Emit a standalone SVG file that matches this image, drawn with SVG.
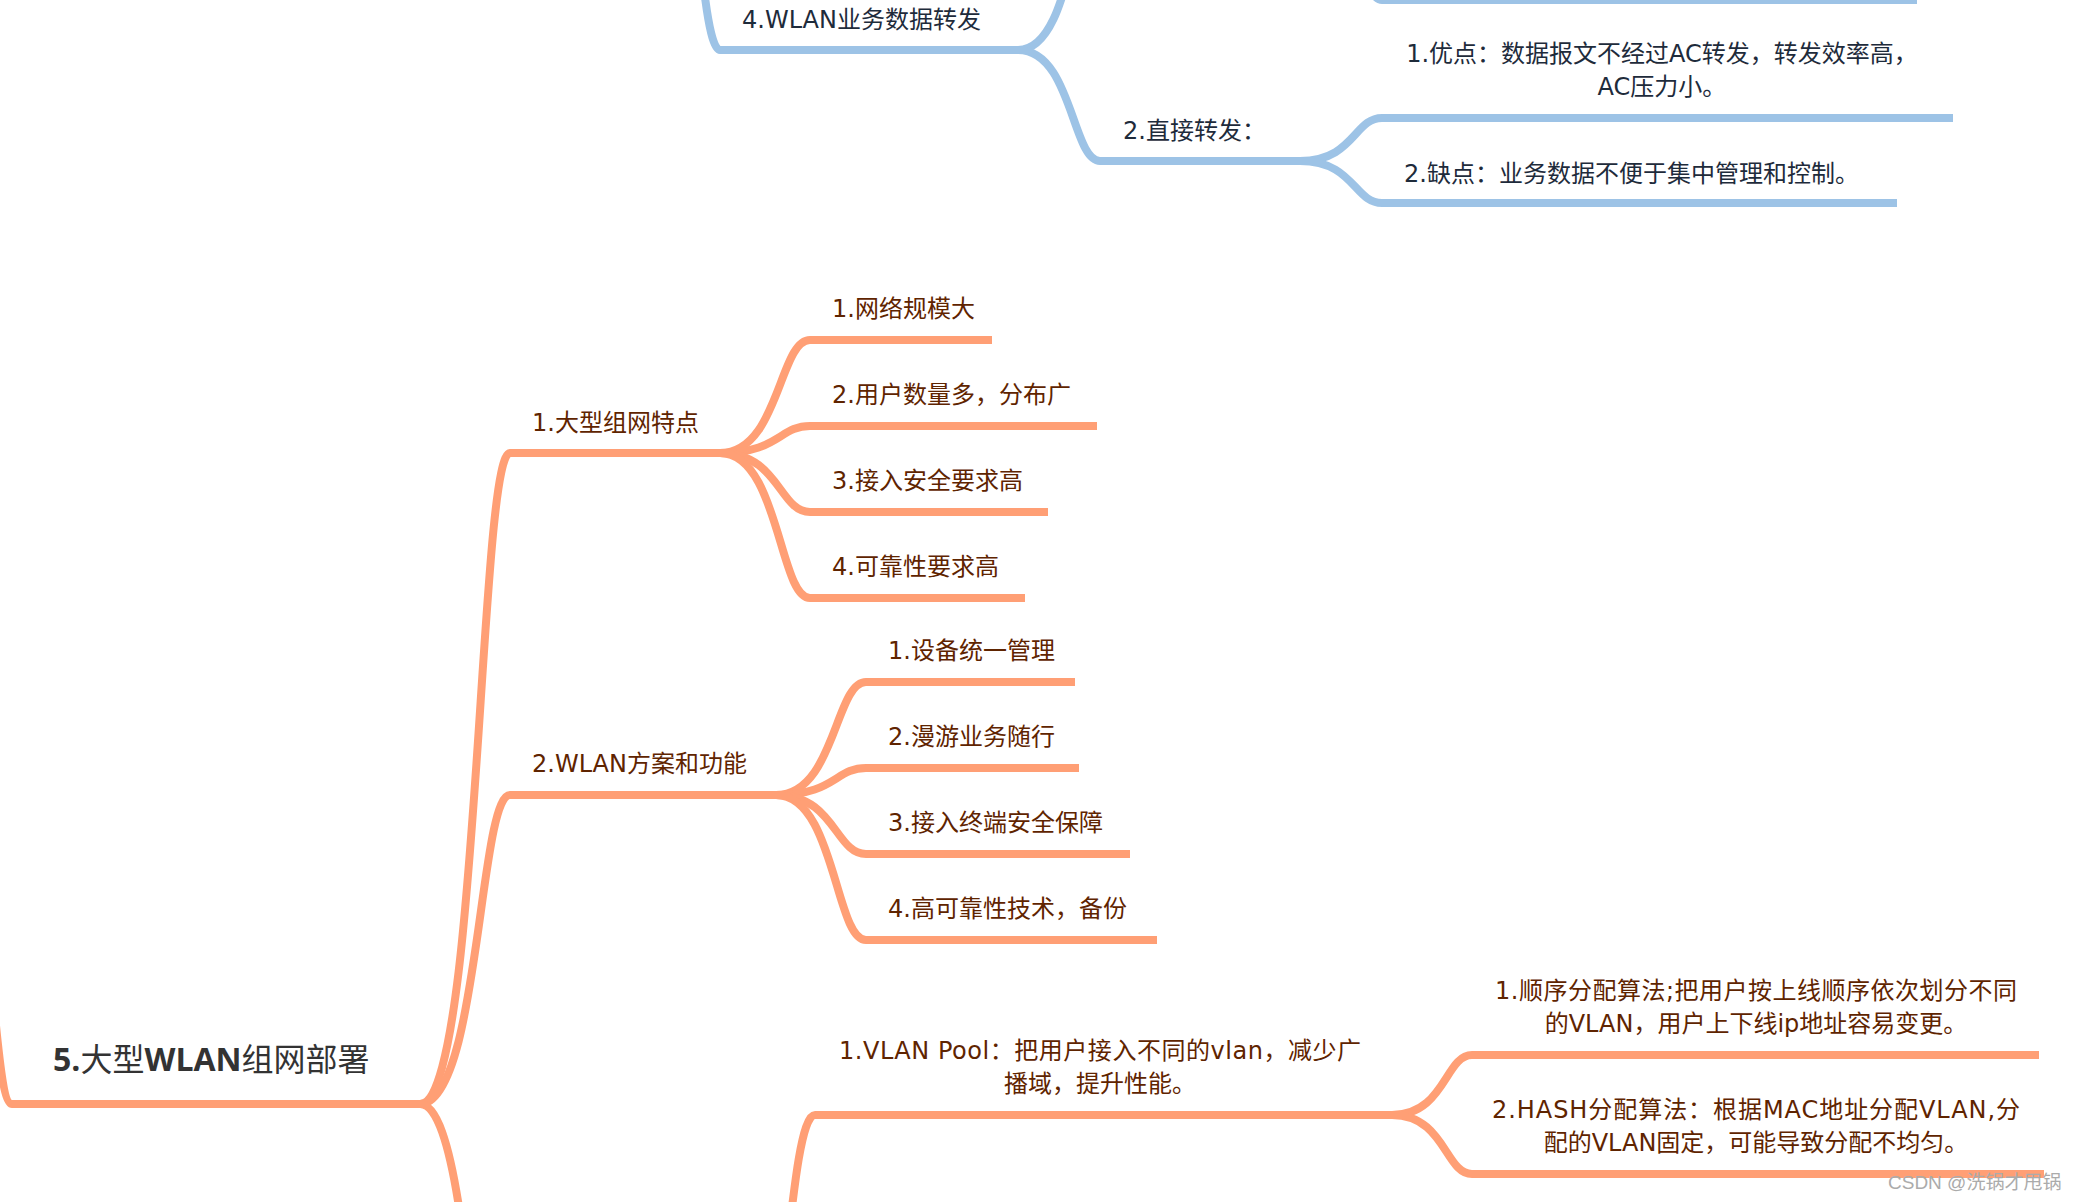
<svg xmlns="http://www.w3.org/2000/svg" width="2073" height="1202" viewBox="0 0 2073 1202">
<style>
.bl{fill:none;stroke:#9DC3E6;stroke-width:8;stroke-linecap:butt}
.or{fill:none;stroke:#FF9F75;stroke-width:8;stroke-linecap:butt}
text{font-family:"DejaVu Sans","Noto Sans CJK SC",sans-serif;font-size:24px}
.tb{fill:#1E2B3B}
.to{fill:#5F2400}
.root{fill:#333333;font-size:32px;font-family:"Open Sans","Noto Sans CJK SC",sans-serif}
.wm{font-family:"Liberation Sans","Noto Sans CJK SC",sans-serif;font-size:19px;fill:#ABABAB}
</style>
<rect width="2073" height="1202" fill="#FFFFFF"/>
<g id="connectors">
<path class="bl" d="M630 -500 C689 -500 689 50 720 50"/>
<path class="bl" d="M1018 50 C1072 50 1072 -100 1100 -100"/>
<path class="bl" d="M1018 50 C1072 50 1072 161 1100 161"/>
<path class="bl" d="M1300 -150 C1354 -150 1354 0 1382 0"/>
<path class="bl" d="M1300 161 C1354 161 1354 118 1382 118"/>
<path class="bl" d="M1300 161 C1354 161 1354 203 1382 203"/>
<path class="or" d="M-60 700 C-12 700 -12 1104 12 1104"/>
<path class="or" d="M420 1104 C479 1104 479 453 510 453"/>
<path class="or" d="M420 1104 C479 1104 479 795 510 795"/>
<path class="or" d="M420 1104 C479 1104 479 1600 510 1600"/>
<path class="or" d="M720 453 C779 453 779 340 810 340"/>
<path class="or" d="M720 453 C779 453 779 426 810 426"/>
<path class="or" d="M720 453 C779 453 779 512 810 512"/>
<path class="or" d="M720 453 C779 453 779 598 810 598"/>
<path class="or" d="M776 795 C835 795 835 682 866 682"/>
<path class="or" d="M776 795 C835 795 835 768 866 768"/>
<path class="or" d="M776 795 C835 795 835 854 866 854"/>
<path class="or" d="M776 795 C835 795 835 940 866 940"/>
<path class="or" d="M725 1500 C784 1500 784 1115 815 1115"/>
<path class="or" d="M1392 1115 C1445 1115 1445 1055 1472 1055"/>
<path class="or" d="M1392 1115 C1445 1115 1445 1174 1472 1174"/>
</g>
<g id="node-wlan-forward">
<path class="bl" d="M720 50 H1018"/>
<text class="tb" x="742" y="28">4.WLAN业务数据转发</text>
</g>
<g id="node-top-sibling">
<path class="bl" d="M1382 0 H1917"/>
</g>
<g id="node-direct">
<path class="bl" d="M1100 161 H1300"/>
<text class="tb" x="1123" y="139">2.直接转发：</text>
</g>
<g id="node-pro">
<path class="bl" d="M1382 118 H1953"/>
<text class="tb" x="1662" y="62" text-anchor="middle">1.优点：数据报文不经过AC转发，转发效率高，</text>
<text class="tb" x="1662" y="95" text-anchor="middle">AC压力小。</text>
</g>
<g id="node-con">
<path class="bl" d="M1382 203 H1897"/>
<text class="tb" x="1404" y="182">2.缺点：业务数据不便于集中管理和控制。</text>
</g>
<g id="node-root">
<path class="or" d="M12 1104 H420"/>
<text class="root" x="53" y="1071"><tspan font-weight="700">5.</tspan>大型<tspan font-weight="700">WLAN</tspan>组网部署</text>
</g>
<g id="node-l1">
<path class="or" d="M510 453 H720"/>
<text class="to" x="532" y="431">1.大型组网特点</text>
</g>
<g id="node-l1-1">
<path class="or" d="M810 340 H992"/>
<text class="to" x="832" y="317">1.网络规模大</text>
</g>
<g id="node-l1-2">
<path class="or" d="M810 426 H1097"/>
<text class="to" x="832" y="403">2.用户数量多，分布广</text>
</g>
<g id="node-l1-3">
<path class="or" d="M810 512 H1048"/>
<text class="to" x="832" y="489">3.接入安全要求高</text>
</g>
<g id="node-l1-4">
<path class="or" d="M810 598 H1025"/>
<text class="to" x="832" y="575">4.可靠性要求高</text>
</g>
<g id="node-l2">
<path class="or" d="M510 795 H776"/>
<text class="to" x="532" y="772">2.WLAN方案和功能</text>
</g>
<g id="node-l2-1">
<path class="or" d="M866 682 H1075"/>
<text class="to" x="888" y="659">1.设备统一管理</text>
</g>
<g id="node-l2-2">
<path class="or" d="M866 768 H1079"/>
<text class="to" x="888" y="745">2.漫游业务随行</text>
</g>
<g id="node-l2-3">
<path class="or" d="M866 854 H1130"/>
<text class="to" x="888" y="831">3.接入终端安全保障</text>
</g>
<g id="node-l2-4">
<path class="or" d="M866 940 H1157"/>
<text class="to" x="888" y="917">4.高可靠性技术，备份</text>
</g>
<g id="node-vlanpool">
<path class="or" d="M815 1115 H1392"/>
<text class="to" x="1100" y="1059" text-anchor="middle" textLength="522">1.VLAN Pool：把用户接入不同的vlan，减少广</text>
<text class="to" x="1100" y="1092" text-anchor="middle">播域，提升性能。</text>
</g>
<g id="node-seq">
<path class="or" d="M1472 1055 H2039"/>
<text class="to" x="1756" y="999" text-anchor="middle" textLength="522">1.顺序分配算法;把用户按上线顺序依次划分不同</text>
<text class="to" x="1756" y="1032" text-anchor="middle">的VLAN，用户上下线ip地址容易变更。</text>
</g>
<g id="node-hash">
<path class="or" d="M1472 1174 H2044"/>
<text class="to" x="1756" y="1118" text-anchor="middle" textLength="528">2.HASH分配算法：根据MAC地址分配VLAN,分</text>
<text class="to" x="1756" y="1151" text-anchor="middle">配的VLAN固定，可能导致分配不均匀。</text>
</g>
<text class="wm" x="1888" y="1189">CSDN @洗锅才甩锅</text>
</svg>
